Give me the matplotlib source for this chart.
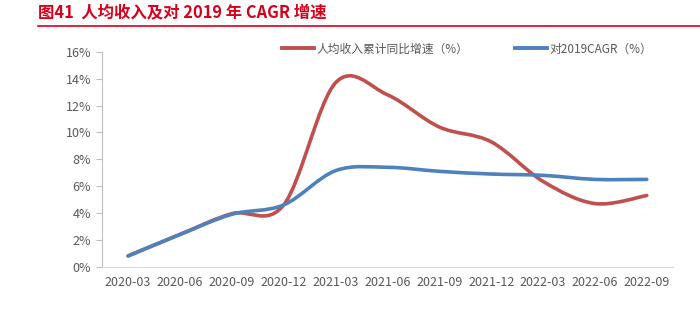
import matplotlib
matplotlib.use("Agg")
import matplotlib.pyplot as plt
from matplotlib.path import Path
from matplotlib.patches import PathPatch
from matplotlib.lines import Line2D
import numpy as np

plt.rcParams['font.family'] = ['Noto Sans CJK SC', 'DejaVu Sans']

categories = ["2020-03", "2020-06", "2020-09", "2020-12", "2021-03", "2021-06",
              "2021-09", "2021-12", "2022-03", "2022-06", "2022-09"]
income_yoy = [0.8, 2.4, 3.95, 4.6, 13.7, 12.8, 10.4, 9.3, 6.35, 4.7, 5.3]
cagr_2019 = [0.8, 2.4, 3.9, 4.6, 7.15, 7.4, 7.1, 6.9, 6.8, 6.5, 6.5]
yticks = [0, 2, 4, 6, 8, 10, 12, 14, 16]

red = '#c0504d'
blue = '#4f81bd'
gray_txt = '#595959'

fig = plt.figure(figsize=(7.0, 3.26), dpi=100)
ax = fig.add_axes([0.146, 0.182, 0.815, 0.659])


def smooth_path(xs, ys):
    pts = np.column_stack([xs, ys]).astype(float)
    n = len(pts)
    verts = [pts[0]]
    codes = [Path.MOVETO]
    for i in range(n - 1):
        p0 = pts[i - 1] if i > 0 else pts[i]
        p1 = pts[i]
        p2 = pts[i + 1]
        p3 = pts[i + 2] if i + 2 < n else pts[i + 1]
        c1 = p1 + (p2 - p0) / 6.0
        c2 = p2 - (p3 - p1) / 6.0
        verts += [c1, c2, p2]
        codes += [Path.CURVE4] * 3
    return Path(verts, codes)


x = np.arange(len(categories))
for vals, col in [(income_yoy, red), (cagr_2019, blue)]:
    patch = PathPatch(smooth_path(x, vals), facecolor='none', edgecolor=col,
                      lw=2.6, capstyle='round', joinstyle='round', zorder=3)
    ax.add_patch(patch)

ax.set_xlim(-0.5, len(categories) - 0.5)
ax.set_ylim(0, 16)
ax.set_xticks(x)
ax.set_xticklabels(categories)
ax.set_yticks(yticks)
ax.set_yticklabels([f"{v}%" for v in yticks])

for s in ['top', 'right']:
    ax.spines[s].set_visible(False)
ax.spines['left'].set_color('#bfbfbf')
ax.spines['bottom'].set_color('#d9d9d9')
ax.tick_params(axis='y', colors='#bfbfbf', labelcolor=gray_txt, labelsize=9,
               length=4, width=0.8, pad=4)
ax.tick_params(axis='x', length=0, labelcolor=gray_txt, labelsize=9, pad=7)

handles = [Line2D([], [], color=red, lw=2.8), Line2D([], [], color=blue, lw=2.8)]
fig.legend(handles, ["人均收入累计同比增速（%）", "对2019CAGR（%）"],
           loc='center left', bbox_to_anchor=(282 / 700, 1 - 49 / 326),
           bbox_transform=fig.transFigure, borderaxespad=0, borderpad=0,
           ncol=2, frameon=False, fontsize=8.5, labelcolor=gray_txt,
           handlelength=2.7, handletextpad=0.25, columnspacing=3.9)

fig.text(0.054, 0.962, "图41  人均收入及对 2019 年 CAGR 增速", color='#d7001b',
         fontsize=11.8, fontweight='bold', va='center', ha='left')
fig.add_artist(Line2D([0.054, 1.0], [0.92, 0.92], color='#d7001b', lw=1.2,
                      transform=fig.transFigure))

fig.savefig("out.png", dpi=100)
